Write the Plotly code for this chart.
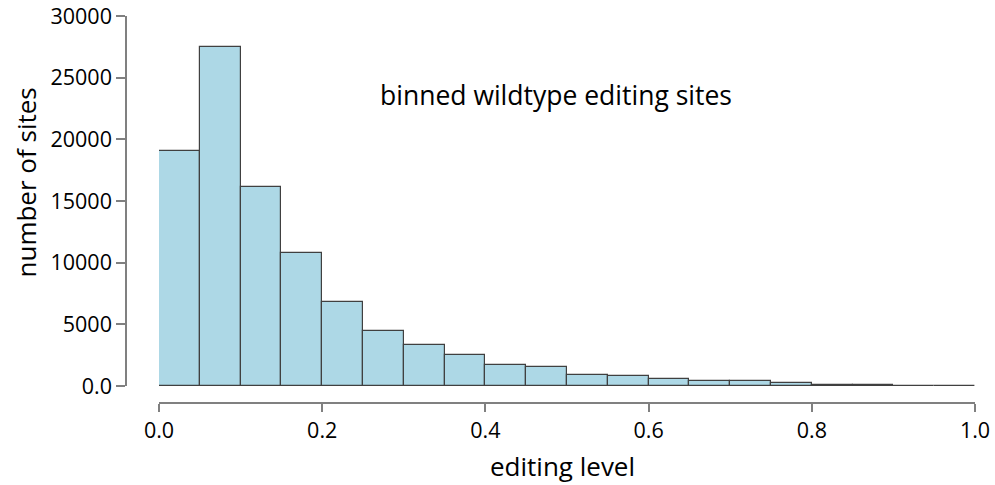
import numpy as np
import plotly.graph_objects as go

# data
bin_width = 0.05
bin_edges = np.round(np.arange(0, 1.0001, bin_width), 2)
counts = [19070, 27460, 16130, 10790, 6830, 4430, 3350, 2540, 1675, 1540,
          880, 785, 570, 435, 380, 220, 120, 70, 8, 3]
x_ticks = [0.0, 0.2, 0.4, 0.6, 0.8, 1.0]
x_ticktext = ["0.0", "0.2", "0.4", "0.6", "0.8", "1.0"]
y_ticks = [0, 5000, 10000, 15000, 20000, 25000, 30000]
y_ticktext = ["0.0", "5000", "10000", "15000", "20000", "25000", "30000"]

centers = (bin_edges[:-1] + bin_edges[1:]) / 2

FONT = "Open Sans"
W, H = 995, 485
ml, mr, mt, mb = 126, 20, 16, 82
pw = W - ml - mr
ph = H - mt - mb

fig = go.Figure()
fig.add_trace(go.Bar(
    x=centers, y=counts, width=bin_width,
    marker=dict(color="#add8e6", line=dict(color="#404040", width=1.2)),
    showlegend=False, hoverinfo="x+y",
))

axcol = "#808080"
fig.update_layout(
    width=W, height=H,
    margin=dict(l=ml, r=mr, t=mt, b=mb, pad=0),
    paper_bgcolor="white", plot_bgcolor="white",
    font=dict(family=FONT, size=22, color="black"),
    bargap=0,
    xaxis=dict(
        domain=[(159 - ml) / pw, 1], range=[0, 1],
        anchor="free", position=0, automargin=False,
        showline=True, linecolor=axcol, linewidth=1.5,
        ticks="outside", ticklen=8, tickwidth=1.5, tickcolor=axcol,
        tickvals=x_ticks, ticktext=x_ticktext,
        tickfont=dict(size=21.5),
        showgrid=False, zeroline=False,
    ),
    yaxis=dict(
        domain=[(403 - 386) / ph, 1], range=[0, 30000],
        anchor="free", position=0, automargin=False,
        showline=True, linecolor=axcol, linewidth=1.5,
        ticks="outside", ticklen=9, tickwidth=1.5, tickcolor=axcol,
        tickvals=y_ticks, ticktext=y_ticktext,
        tickfont=dict(size=21.5),
        showgrid=False, zeroline=False,
    ),
    annotations=[
        dict(text="binned wildtype editing sites", x=0.486, y=23600,
             xref="x", yref="y", showarrow=False,
             font=dict(size=26.5, color="black"), xanchor="center", yanchor="middle"),
        dict(text="editing level", x=(562 - ml) / pw, y=(403 - 466) / ph,
             xref="paper", yref="paper", showarrow=False,
             font=dict(size=26, color="black"), xanchor="center", yanchor="middle"),
        dict(text="number of sites", x=(25 - ml) / pw, y=(403 - 182.5) / ph,
             xref="paper", yref="paper", showarrow=False, textangle=-90,
             font=dict(size=26, color="black"), xanchor="center", yanchor="middle"),
    ],
)

fig.write_html("out.html")
